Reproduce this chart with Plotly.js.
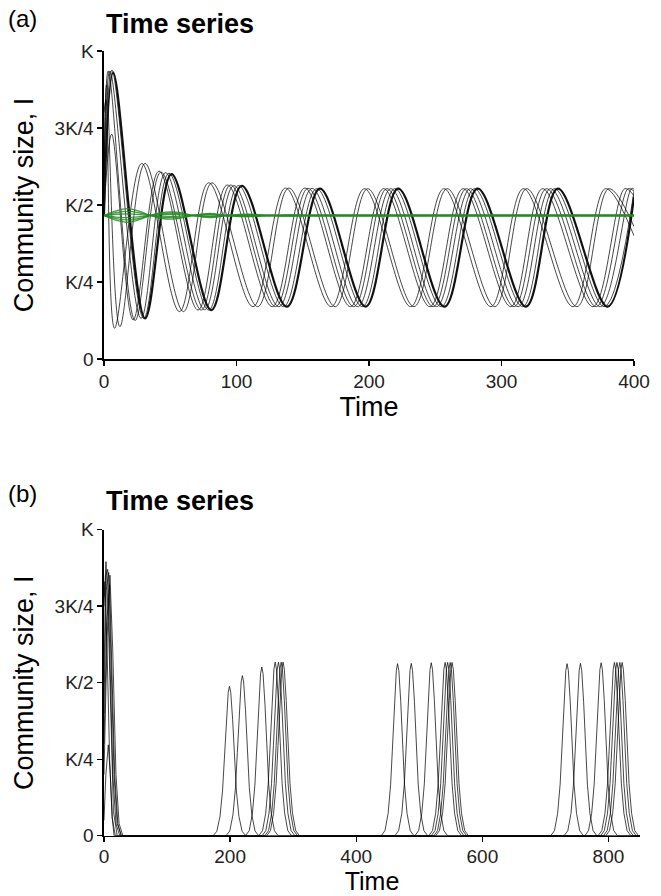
<!DOCTYPE html>
<html><head><meta charset="utf-8">
<script src="https://cdn.plot.ly/plotly-3.0.1.min.js"></script>
<style>html,body{margin:0;padding:0;background:#fff}#chart{width:661px;height:896px}</style>
</head><body><div id="chart"></div>
<script>
// ---------- Panel (a): black series, extrema (time, I/K) ----------
const aThickT = [0, 7, 31, 51, 81, 104, 138, 163, 197.5, 222, 257, 282, 318.5, 342.5, 380, 400];
const aThickY = [0.47, 0.93, 0.132, 0.60, 0.159, 0.562, 0.17, 0.553, 0.17, 0.553, 0.17, 0.553, 0.17, 0.553, 0.17, 0.527];
const aA1T = [0, 1.5, 8, 28.5, 57, 79, 112.5, 137, 171.5, 196.5, 231.5, 256.5, 292, 316.5, 354, 378.5, 400];
const aA1Y = [0.80, 0.84, 0.10, 0.635, 0.154, 0.572, 0.17, 0.555, 0.17, 0.553, 0.17, 0.553, 0.17, 0.553, 0.17, 0.553, 0.40];
const aA2T = [0, 2, 12, 31, 60, 81.5, 116, 139.5, 174.5, 199, 234, 259, 295, 319, 357, 381, 400];
const aA2Y = [0.47, 0.89, 0.105, 0.635, 0.154, 0.572, 0.17, 0.555, 0.17, 0.553, 0.17, 0.553, 0.17, 0.553, 0.17, 0.553, 0.43];
const aB1T = [0, 5.8, 22, 41.5, 71, 93, 127, 151.5, 186, 211, 246, 271, 307, 331, 369, 393, 400];
const aB1Y = [0.47, 0.73, 0.127, 0.61, 0.159, 0.565, 0.17, 0.555, 0.17, 0.553, 0.17, 0.553, 0.17, 0.553, 0.17, 0.553, 0.53];
const aB2T = [0, 3.3, 23.5, 43, 73.5, 95.5, 129.5, 154, 188.5, 213.5, 248.5, 273.5, 309.5, 334, 371.5, 395.5, 400];
const aB2Y = [0.47, 0.935, 0.125, 0.607, 0.159, 0.565, 0.17, 0.554, 0.17, 0.553, 0.17, 0.553, 0.17, 0.553, 0.17, 0.553, 0.545];
const aC1T = [0, 4.5, 28, 46.5, 76, 98, 132, 157, 191.5, 216.5, 251, 276.5, 312.5, 337, 374.5, 398, 400];
const aC1Y = [0.47, 0.935, 0.132, 0.605, 0.16, 0.563, 0.17, 0.554, 0.17, 0.553, 0.17, 0.553, 0.17, 0.553, 0.17, 0.553, 0.552];
const aC2T = [0, 6, 30, 49, 79, 101.5, 135.5, 160.5, 195, 219.5, 254.5, 279.5, 316, 340, 377.5, 400];
const aC2Y = [0.47, 0.938, 0.132, 0.603, 0.159, 0.563, 0.17, 0.553, 0.17, 0.553, 0.17, 0.553, 0.17, 0.553, 0.17, 0.545];

// ---------- Panel (a): green series (time grid + values) ----------
const gT  = [0, 9, 18, 27, 35, 43, 51, 59, 67, 80, 93, 110, 125, 140, 160, 400];
const g1Y = [0.466, 0.481, 0.488, 0.479, 0.466, 0.457, 0.454, 0.458, 0.466, 0.473, 0.466, 0.462, 0.466, 0.468, 0.466, 0.466];
const g2Y = [0.466, 0.475, 0.479, 0.474, 0.466, 0.461, 0.459, 0.461, 0.466, 0.470, 0.466, 0.464, 0.466, 0.467, 0.466, 0.466];
const g3Y = [0.466, 0.470, 0.471, 0.469, 0.466, 0.464, 0.463, 0.464, 0.466, 0.468, 0.466, 0.465, 0.466, 0.466, 0.466, 0.466];
const g4Y = [0.466, 0.461, 0.459, 0.462, 0.466, 0.469, 0.470, 0.468, 0.466, 0.464, 0.466, 0.467, 0.466, 0.466, 0.466, 0.466];
const g5Y = [0.466, 0.456, 0.452, 0.457, 0.466, 0.472, 0.474, 0.471, 0.466, 0.462, 0.466, 0.469, 0.466, 0.465, 0.466, 0.466];
const g6Y = [0.466, 0.451, 0.444, 0.453, 0.466, 0.475, 0.478, 0.474, 0.466, 0.459, 0.466, 0.470, 0.466, 0.464, 0.466, 0.466];

// ---------- Panel (b): initial outbreaks ----------
const b1InitT = [0, 3, 6.9, 10, 13, 16];          const b1InitY = [0.05, 0.2, 0.297, 0.2, 0.06, 0];
const b2InitT = [0, 1.5, 5, 9, 13, 18];           const b2InitY = [0.78, 0.83, 0.6, 0.25, 0.06, 0];
const b3InitT = [0, 3.2, 7, 11, 15, 21];          const b3InitY = [0.75, 0.895, 0.7, 0.35, 0.08, 0];
const b4InitT = [0, 5, 9.5, 14, 19, 24, 30];      const b4InitY = [0.2, 0.65, 0.851, 0.6, 0.2, 0.04, 0];
const b5InitT = [0, 4.5, 9, 13, 17, 22, 27];      const b5InitY = [0.3, 0.7, 0.82, 0.55, 0.2, 0.04, 0];
const b6InitT = [0, 2.5, 6, 10, 14, 19, 25];      const b6InitY = [0.5, 0.85, 0.87, 0.55, 0.2, 0.04, 0];
const b7InitT = [0, 3.5, 7.5, 12, 16, 21, 28];    const b7InitY = [0.4, 0.8, 0.86, 0.55, 0.2, 0.04, 0];
// Panel (b): recurrent outbreak peaks (time, height)
const b1PeakT = [199, 465.6, 734.4];   const b1PeakY = [0.488, 0.562, 0.562];
const b2PeakT = [219.5, 487.3, 755.6]; const b2PeakY = [0.523, 0.563, 0.563];
const b3PeakT = [250.3, 519, 788.4];   const b3PeakY = [0.551, 0.565, 0.565];
const b4PeakT = [271.5, 541, 809.5];   const b4PeakY = [0.567, 0.566, 0.566];
const b5PeakT = [276.7, 545, 813.5];   const b5PeakY = [0.567, 0.566, 0.566];
const b6PeakT = [281, 549, 818];       const b6PeakY = [0.567, 0.566, 0.566];
const b7PeakT = [284, 552, 821.7];     const b7PeakY = [0.567, 0.566, 0.566];
// Outbreak profile read from an isolated pulse (offset from peak, fraction of peak)
const pulseDt   = [-26, -20, -15, -11, -8, -5, -2, 0, 2, 5, 8, 11, 15, 20, 26];
const pulseFrac = [0, 0.03, 0.13, 0.3, 0.52, 0.78, 0.96, 1, 0.96, 0.78, 0.52, 0.3, 0.13, 0.03, 0];
const bEndT = 850;

// Tick labels
const yTickVals = [0, 0.25, 0.5, 0.75, 1];
const yTickText = ['0', 'K/4', 'K/2', '3K/4', 'K'];
const xTickA = [0, 100, 200, 300, 400];
const xTickB = [0, 200, 400, 600, 800];

// ---------- traces ----------
const thin = {color: 'rgba(0,0,0,0.72)', width: 1, shape: 'spline', smoothing: 1};
const traces = [];
[[aA1T,aA1Y],[aA2T,aA2Y],[aB1T,aB1Y],[aB2T,aB2Y],[aC1T,aC1Y],[aC2T,aC2Y]].forEach(([t,y]) => {
  traces.push({x: t, y: y, type: 'scatter', mode: 'lines', line: thin, xaxis: 'x', yaxis: 'y', hoverinfo: 'skip'});
});
traces.push({x: aThickT, y: aThickY, type: 'scatter', mode: 'lines', line: {color: '#111', width: 2.2, shape: 'spline', smoothing: 1}, xaxis: 'x', yaxis: 'y'});
[g1Y,g2Y,g3Y,g4Y,g5Y,g6Y].forEach(y => {
  traces.push({x: gT, y: y, type: 'scatter', mode: 'lines', line: {color: '#228b22', width: 1.3, shape: 'spline', smoothing: 1}, opacity: 0.85, xaxis: 'x', yaxis: 'y'});
});

const bLines = [
  [b1InitT,b1InitY,b1PeakT,b1PeakY],[b2InitT,b2InitY,b2PeakT,b2PeakY],[b3InitT,b3InitY,b3PeakT,b3PeakY],
  [b4InitT,b4InitY,b4PeakT,b4PeakY],[b5InitT,b5InitY,b5PeakT,b5PeakY],[b6InitT,b6InitY,b6PeakT,b6PeakY],
  [b7InitT,b7InitY,b7PeakT,b7PeakY]
];
bLines.forEach(([it, iy, pt, py]) => {
  let x = it.slice(), y = iy.slice();
  pt.forEach((p, k) => {
    pulseDt.forEach((d, j) => { x.push(p + d); y.push(py[k] * pulseFrac[j]); });
  });
  x.push(bEndT); y.push(0);
  traces.push({x: x, y: y, type: 'scatter', mode: 'lines', line: {color: 'rgba(0,0,0,0.72)', width: 1}, xaxis: 'x2', yaxis: 'y2'});
});

const FONT = 'Liberation Sans, Arial, Helvetica, sans-serif';
const axBase = {
  showline: true, linecolor: 'black', linewidth: 1.5, showgrid: false, zeroline: false,
  ticks: 'outside', ticklen: 5, tickwidth: 1.3, tickcolor: 'black',
  tickfont: {size: 19, color: '#222', family: FONT}
};
const layout = {
  width: 661, height: 896,
  margin: {l: 0, r: 0, t: 0, b: 0},
  paper_bgcolor: 'white', plot_bgcolor: 'white',
  showlegend: false,
  font: {family: FONT, color: 'black'},
  xaxis: Object.assign({}, axBase, {domain: [0.1573, 0.9592], range: [0, 400], anchor: 'y', tickvals: xTickA,
    title: {text: 'Time', font: {size: 27, family: FONT}, standoff: 2}}),
  yaxis: Object.assign({}, axBase, {domain: [0.5993, 0.9431], range: [0, 1], anchor: 'x', tickvals: yTickVals, ticktext: yTickText,
    title: {text: 'Community size, I', font: {size: 27, family: FONT}, standoff: 13}}),
  xaxis2: Object.assign({}, axBase, {domain: [0.1573, 0.9682], range: [0, 850], anchor: 'y2', tickvals: xTickB,
    ticklabelstandoff: -2,
    title: {text: 'Time', font: {size: 25, family: FONT}, standoff: 2}}),
  yaxis2: Object.assign({}, axBase, {domain: [0.0672, 0.4090], range: [0, 1], anchor: 'x2', tickvals: yTickVals, ticktext: yTickText,
    title: {text: 'Community size, I', font: {size: 27, family: FONT}, standoff: 13}}),
  annotations: [
    {text: '(a)', xref: 'paper', yref: 'paper', x: 6/661, y: 1 - 19/896, xanchor: 'left', yanchor: 'middle', showarrow: false, font: {size: 24, family: FONT}},
    {text: '<b>Time series</b>', xref: 'paper', yref: 'paper', x: 104/661, y: 1 - 24/896, xanchor: 'left', yanchor: 'middle', showarrow: false, font: {size: 27, family: FONT}},
    {text: '(b)', xref: 'paper', yref: 'paper', x: 6/661, y: 1 - 493/896, xanchor: 'left', yanchor: 'middle', showarrow: false, font: {size: 24, family: FONT}},
    {text: '<b>Time series</b>', xref: 'paper', yref: 'paper', x: 104/661, y: 1 - 501/896, xanchor: 'left', yanchor: 'middle', showarrow: false, font: {size: 27, family: FONT}}
  ]
};
Plotly.newPlot('chart', traces, layout, {displayModeBar: false, staticPlot: true});
</script>
</body></html>
